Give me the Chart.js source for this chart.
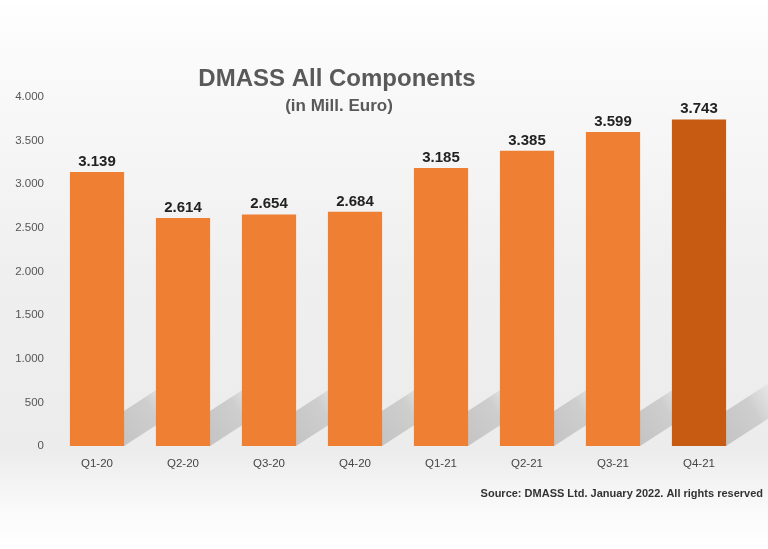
<!DOCTYPE html>
<html>
<head>
<meta charset="utf-8">
<script src="https://cdn.jsdelivr.net/npm/chart.js@4/dist/chart.umd.min.js"></script>
<style>
  html, body { margin: 0; padding: 0; background: #fff; }
  #wrap { width: 768px; height: 549px; }
</style>
</head>
<body>
<div id="wrap"><canvas id="chart" width="768" height="549"></canvas></div>
<script>
const quarters = ['Q1-20', 'Q2-20', 'Q3-20', 'Q4-20', 'Q1-21', 'Q2-21', 'Q3-21', 'Q4-21'];
const sales = [3139, 2614, 2654, 2684, 3185, 3385, 3599, 3743];
const barColors = ['#EE7F33', '#EE7F33', '#EE7F33', '#EE7F33', '#EE7F33', '#EE7F33', '#EE7F33', '#C75B12'];
const titleText = 'DMASS All Components';
const subtitleText = '(in Mill. Euro)';
const sourceText = 'Source: DMASS Ltd. January 2022. All rights reserved';

const fmt = v => String(v).replace(/\B(?=(\d{3})+(?!\d))/g, '.');

// soft background panel plus diagonal bar shadows
const backdrop = {
    id: 'backdrop',
    beforeDraw(chart) {
        const ctx = chart.ctx;
        const g = ctx.createLinearGradient(0, 0, 0, chart.height);
        g.addColorStop(0, '#ffffff');
        g.addColorStop(0.08, '#fbfbfb');
        g.addColorStop(0.5, '#efefef');
        g.addColorStop(0.82, '#ececec');
        g.addColorStop(0.93, '#fafafa');
        g.addColorStop(1, '#ffffff');
        ctx.save();
        ctx.fillStyle = g;
        ctx.fillRect(0, 0, chart.width, chart.height);
        ctx.restore();
    },
    beforeDatasetsDraw(chart) {
        const ctx = chart.ctx;
        const meta = chart.getDatasetMeta(0);
        ctx.save();
        meta.data.forEach(bar => {
            const x0 = bar.x - bar.width / 2;
            const x1 = bar.x + bar.width / 2;
            const base = bar.base;
            const dx = 105, dy = 68;
            const g = ctx.createLinearGradient(x0, base, x0 + dx, base - dy);
            g.addColorStop(0, 'rgba(170,170,170,0.8)');
            g.addColorStop(0.7, 'rgba(185,185,185,0.6)');
            g.addColorStop(1, 'rgba(200,200,200,0.0)');
            ctx.fillStyle = g;
            ctx.beginPath();
            ctx.moveTo(x0, base);
            ctx.lineTo(x1, base);
            ctx.lineTo(x1 + dx, base - dy);
            ctx.lineTo(x0 + dx, base - dy);
            ctx.closePath();
            ctx.fill();
        });
        ctx.restore();
    },
    afterDraw(chart) {
        const ctx = chart.ctx;
        const meta = chart.getDatasetMeta(0);
        ctx.save();
        ctx.textAlign = 'center';
        ctx.textBaseline = 'alphabetic';
        ctx.fillStyle = '#222222';
        ctx.font = 'bold 15px "Liberation Sans", Arial, sans-serif';
        meta.data.forEach((bar, i) => {
            ctx.fillText(fmt(sales[i]), bar.x, bar.y - 6);
        });
        ctx.fillStyle = '#595959';
        ctx.font = 'bold 24px "Liberation Sans", Arial, sans-serif';
        ctx.textBaseline = 'middle';
        ctx.fillText(titleText, 337, 79);
        ctx.font = 'bold 17px "Liberation Sans", Arial, sans-serif';
        ctx.fillText(subtitleText, 339, 106);
        ctx.textAlign = 'right';
        ctx.fillStyle = '#333333';
        ctx.font = 'bold 11px "Liberation Sans", Arial, sans-serif';
        ctx.fillText(sourceText, 763, 494);
        ctx.restore();
    }
};

new Chart(document.getElementById('chart').getContext('2d'), {
    type: 'bar',
    data: {
        labels: quarters,
        datasets: [{
            data: sales,
            backgroundColor: barColors,
            borderWidth: 0,
            barPercentage: 0.63,
            categoryPercentage: 1
        }]
    },
    options: {
        responsive: false,
        animation: false,
        layout: { padding: { top: 97, right: 26, bottom: 63, left: 0 } },
        plugins: {
            legend: { display: false },
            tooltip: { enabled: false }
        },
        scales: {
            x: {
                grid: { display: false },
                border: { display: false },
                ticks: {
                    color: '#444444',
                    padding: 3,
                    font: { family: '"Liberation Sans", Arial, sans-serif', size: 11.5 }
                },
                afterFit(scale) { scale.height = 40; }
            },
            y: {
                min: 0,
                max: 4000,
                grid: { display: false },
                border: { display: false },
                ticks: {
                    stepSize: 500,
                    color: '#555555',
                    padding: 2,
                    font: { family: '"Liberation Sans", Arial, sans-serif', size: 11.5 },
                    callback: v => fmt(v)
                },
                afterFit(scale) { scale.width = 54; }
            }
        }
    },
    plugins: [backdrop]
});
</script>
</body>
</html>
